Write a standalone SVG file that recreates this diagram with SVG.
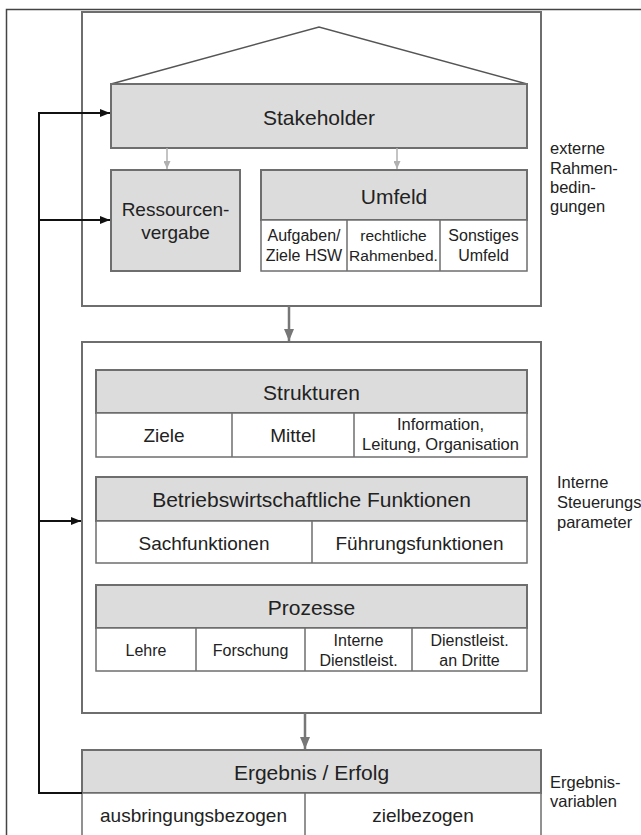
<svg xmlns="http://www.w3.org/2000/svg" width="641" height="835" viewBox="0 0 641 835">
<defs>
<style>
.frame{fill:none;stroke:#444;stroke-width:1.5}
.box{fill:#fff;stroke:#6e6e6e;stroke-width:2}
.hdr{fill:#dcdcdc;stroke:#6e6e6e;stroke-width:2}
.cell{fill:#fff;stroke:#6e6e6e;stroke-width:1.5}
.div{stroke:#6e6e6e;stroke-width:1.5}
text{font-family:"Liberation Sans",Arial,sans-serif;fill:#222;text-anchor:middle}
.h{font-size:21px}
.m{font-size:19px}
.s{font-size:16px}
.lab{font-size:16.5px;text-anchor:start}
.fb{fill:none;stroke:#111;stroke-width:2}
.ga{stroke:#b0b0b0;stroke-width:1.5}
.da{stroke:#777;stroke-width:2.5}
</style>
<marker id="ab" markerWidth="10" markerHeight="8" refX="10" refY="4" orient="auto" markerUnits="userSpaceOnUse"><path d="M0,0 L10,4 L0,8 z" fill="#111"/></marker>
<marker id="ag" markerWidth="8" markerHeight="7" refX="8" refY="3.5" orient="auto" markerUnits="userSpaceOnUse"><path d="M0,0 L8,3.5 L0,7 z" fill="#b0b0b0"/></marker>
<marker id="ad" markerWidth="12" markerHeight="10" refX="12" refY="5" orient="auto" markerUnits="userSpaceOnUse"><path d="M0,0 L12,5 L0,10 z" fill="#777"/></marker>
</defs>
<rect x="0" y="0" width="641" height="835" fill="#fff"/>
<rect class="frame" x="6.5" y="9.5" width="700" height="900"/>

<g id="externe">
<rect class="box" x="82" y="12" width="459" height="294"/>
<text class="lab" x="550" y="154">externe</text>
<text class="lab" x="550" y="174">Rahmen-</text>
<text class="lab" x="550" y="193">bedin-</text>
<text class="lab" x="550" y="212">gungen</text>
</g>

<g id="stakeholder">
<polygon points="111,84 319,27 527,84" fill="#fff" stroke="#555" stroke-width="1.5"/>
<rect class="hdr" x="111" y="84" width="416" height="64"/>
<text class="h" x="319" y="125">Stakeholder</text>
</g>

<g id="ressourcen">
<rect class="hdr" x="111" y="170" width="129" height="101"/>
<text class="m" x="175.5" y="216">Ressourcen-</text>
<text class="m" x="175.5" y="239">vergabe</text>
</g>

<g id="umfeld">
<rect class="hdr" x="261" y="170" width="266" height="50"/>
<text class="h" x="394" y="204">Umfeld</text>
<rect class="cell" x="261" y="220" width="266" height="51"/>
<line class="div" x1="347" y1="220" x2="347" y2="271"/>
<line class="div" x1="440" y1="220" x2="440" y2="271"/>
<text class="s" x="304" y="241">Aufgaben/</text>
<text class="s" x="304" y="261">Ziele HSW</text>
<text class="s" x="393.5" y="241" style="font-size:15.5px">rechtliche</text>
<text class="s" x="393.5" y="261" style="font-size:15.5px">Rahmenbed.</text>
<text class="s" x="483.5" y="241">Sonstiges</text>
<text class="s" x="483.5" y="261">Umfeld</text>
</g>

<g id="intern">
<rect class="box" x="82" y="342" width="459" height="371"/>
<text class="lab" x="557" y="488">Interne</text>
<text class="lab" x="557" y="508">Steuerungs</text>
<text class="lab" x="557" y="528">parameter</text>
</g>

<g id="strukturen">
<rect class="hdr" x="96" y="370" width="431" height="43"/>
<text class="h" x="311.5" y="400">Strukturen</text>
<rect class="cell" x="96" y="413" width="431" height="44"/>
<line class="div" x1="232" y1="413" x2="232" y2="457"/>
<line class="div" x1="354" y1="413" x2="354" y2="457"/>
<text class="m" x="164" y="442">Ziele</text>
<text class="m" x="293" y="442">Mittel</text>
<text class="s" x="440.5" y="430" style="font-size:16.5px">Information,</text>
<text class="s" x="440.5" y="450" style="font-size:16.5px">Leitung, Organisation</text>
</g>

<g id="funktionen">
<rect class="hdr" x="96" y="477" width="431" height="44"/>
<text class="h" x="311.5" y="507">Betriebswirtschaftliche Funktionen</text>
<rect class="cell" x="96" y="521" width="431" height="42"/>
<line class="div" x1="312" y1="521" x2="312" y2="563"/>
<text class="m" x="204" y="550">Sachfunktionen</text>
<text class="m" x="419.5" y="550">Führungsfunktionen</text>
</g>

<g id="prozesse">
<rect class="hdr" x="96" y="585" width="431" height="43"/>
<text class="h" x="311.5" y="615">Prozesse</text>
<rect class="cell" x="96" y="628" width="431" height="43"/>
<line class="div" x1="196" y1="628" x2="196" y2="671"/>
<line class="div" x1="305" y1="628" x2="305" y2="671"/>
<line class="div" x1="412" y1="628" x2="412" y2="671"/>
<text class="s" x="146" y="656">Lehre</text>
<text class="s" x="250.5" y="656">Forschung</text>
<text class="s" x="358.5" y="646">Interne</text>
<text class="s" x="358.5" y="666">Dienstleist.</text>
<text class="s" x="469.5" y="646">Dienstleist.</text>
<text class="s" x="469.5" y="666">an Dritte</text>
</g>

<g id="ergebnis">
<rect class="hdr" x="82" y="750" width="459" height="43"/>
<text class="h" x="311.5" y="780">Ergebnis / Erfolg</text>
<rect class="cell" x="82" y="793" width="459" height="60"/>
<line class="div" x1="305" y1="793" x2="305" y2="835"/>
<text class="m" x="193.5" y="822">ausbringungsbezogen</text>
<text class="m" x="423" y="822">zielbezogen</text>
<text class="lab" x="550" y="788">Ergebnis-</text>
<text class="lab" x="550" y="807">variablen</text>
</g>

<g id="connectors">
<line class="ga" x1="167" y1="148" x2="167" y2="169" marker-end="url(#ag)"/>
<line class="ga" x1="397" y1="148" x2="397" y2="169" marker-end="url(#ag)"/>
<line class="da" x1="289" y1="306" x2="289" y2="341" marker-end="url(#ad)"/>
<line class="da" x1="305" y1="713" x2="305" y2="749" marker-end="url(#ad)"/>
<polyline class="fb" points="82,793 39,793 39,113 110,113" marker-end="url(#ab)"/>
<line class="fb" x1="39" y1="220" x2="110" y2="220" marker-end="url(#ab)"/>
<line class="fb" x1="39" y1="521" x2="81" y2="521" marker-end="url(#ab)"/>
</g>
</svg>
